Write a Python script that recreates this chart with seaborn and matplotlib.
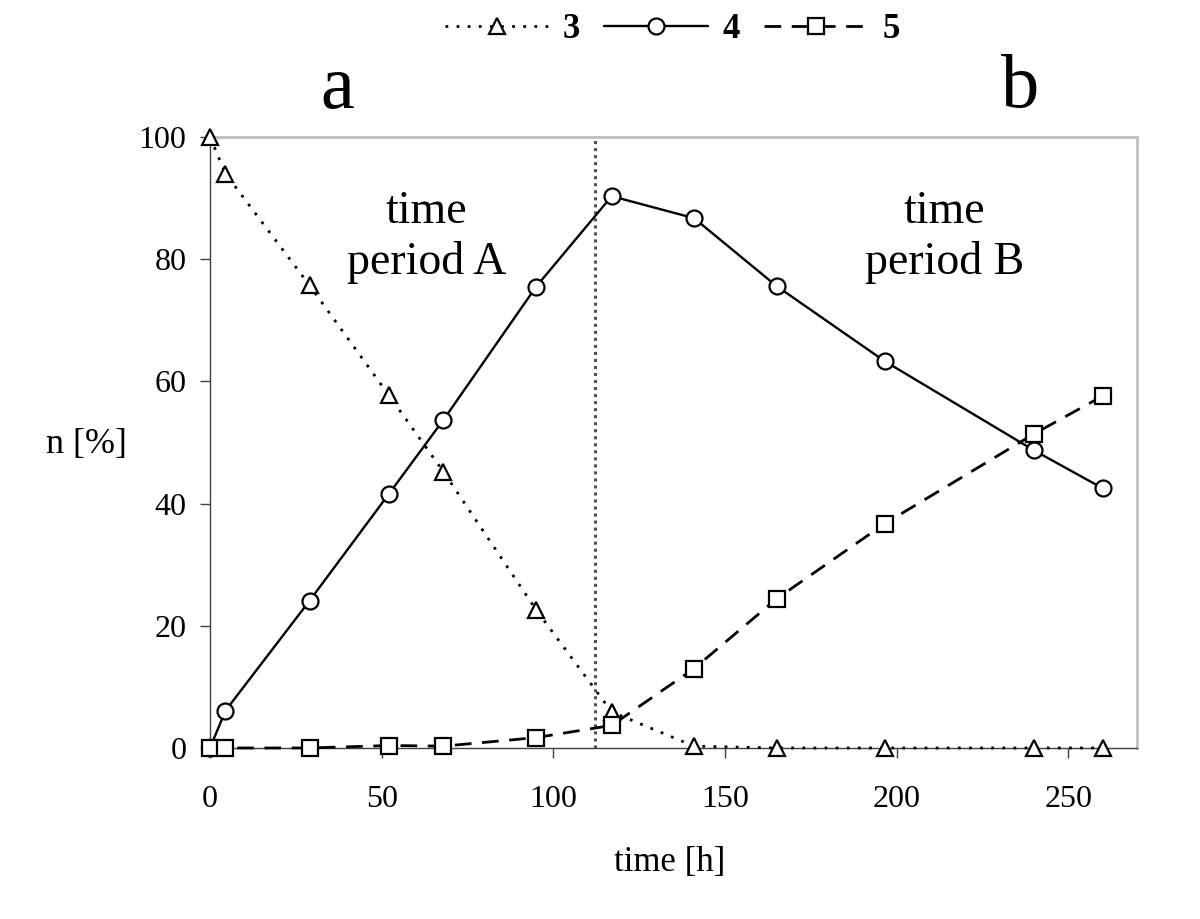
import numpy as np
import pandas as pd
import matplotlib
matplotlib.use('Agg')
import matplotlib.pyplot as plt
import seaborn as sns

# Daten
time_h = [0, 4.5, 29, 52, 68, 95, 117, 141, 165, 196.5, 240, 260]
n_3 = [100, 94, 75.7, 57.8, 45.2, 22.6, 5.9, 0.3, 0, 0, 0, 0]
n_4 = [0, 6.1, 24.1, 41.5, 53.7, 75.5, 90.3, 86.7, 75.6, 63.3, 48.7, 42.5]
n_5 = [0, 0, 0, 0.4, 0.3, 1.7, 3.7, 13.0, 24.4, 36.7, 51.4, 57.6]
series_labels = ['3', '4', '5']
x_ticks = [0, 50, 100, 150, 200, 250]
y_ticks = [0, 20, 40, 60, 80, 100]
boundary_time = 112
period_text_time = [63, 214]
period_text_n = [83.6, 83.6]
period_texts = ['time\nperiod A', 'time\nperiod B']

sns.set_style('white')
plt.rcParams['font.family'] = ['Liberation Serif', 'DejaVu Serif']
plt.rcParams['text.color'] = 'black'
plt.rcParams['axes.labelcolor'] = 'black'
plt.rcParams['xtick.color'] = 'black'
plt.rcParams['ytick.color'] = 'black'

fig = plt.figure(figsize=(12, 9.19), dpi=100)
ax = fig.add_axes([0.175, 0.1861, 0.7725, 0.6649])

# Grenze zwischen den Zeitabschnitten
ax.axvline(boundary_time, color='#505050', lw=2.2, linestyle=(0, (1, 1.3)), zorder=1)

common = dict(color='black', markerfacecolor='white', markeredgecolor='black',
              markeredgewidth=1.6, clip_on=False, zorder=3)
sns.lineplot(x=time_h, y=n_3, ax=ax, label=series_labels[0], marker='^', markersize=11,
             linestyle=(0, (1, 3.0)), lw=2.0, **common)
sns.lineplot(x=time_h, y=n_4, ax=ax, label=series_labels[1], marker='o', markersize=11.5,
             linestyle='-', lw=1.7, **common)
sns.lineplot(x=time_h, y=n_5, ax=ax, label=series_labels[2], marker='s', markersize=11,
             linestyle=(0, (6.0, 3.8)), lw=2.0, **common)

ax.set_xlim(0, 270)
ax.set_ylim(0, 100)
ax.set_xticks(x_ticks)
ax.set_yticks(y_ticks)

for side in ['left', 'bottom']:
    ax.spines[side].set_color('#404040')
    ax.spines[side].set_linewidth(1.0)
for side in ['top', 'right']:
    ax.spines[side].set_color('#c0c0c0')
    ax.spines[side].set_linewidth(2.0)

ax.tick_params(bottom=True, left=True, direction='out', length=7, width=1,
               color='#404040', labelsize=23)
ax.tick_params(axis='x', pad=20)
ax.tick_params(axis='y', pad=10)

for tx, ty, s in zip(period_text_time, period_text_n, period_texts):
    ax.text(tx, ty, s, fontsize=33, ha='center', va='center', multialignment='center',
            linespacing=1.25)

ax.set_xlabel('time [h]', fontsize=25, va='center')
ax.xaxis.set_label_coords(0.496, -0.187)
ax.set_ylabel('n [%]', fontsize=26, rotation=0, ha='center', va='center')
ax.yaxis.set_label_coords(-0.133, 0.496)

fig.text(0.281, 1 - 108 / 919, 'a', fontsize=55, ha='center', va='baseline')
fig.text(0.85, 1 - 107 / 919, 'b', fontsize=55, ha='center', va='baseline')

handles, labels = ax.get_legend_handles_labels()
if ax.get_legend() is not None:
    ax.get_legend().remove()
fig.legend(handles, labels, loc='center', bbox_to_anchor=(672 / 1200, 1 - 30 / 919),
           ncol=3, frameon=False, prop={'weight': 'bold', 'size': 25},
           handlelength=3.0, handletextpad=0.4, columnspacing=0.7)

fig.savefig('out.png', dpi=100)
